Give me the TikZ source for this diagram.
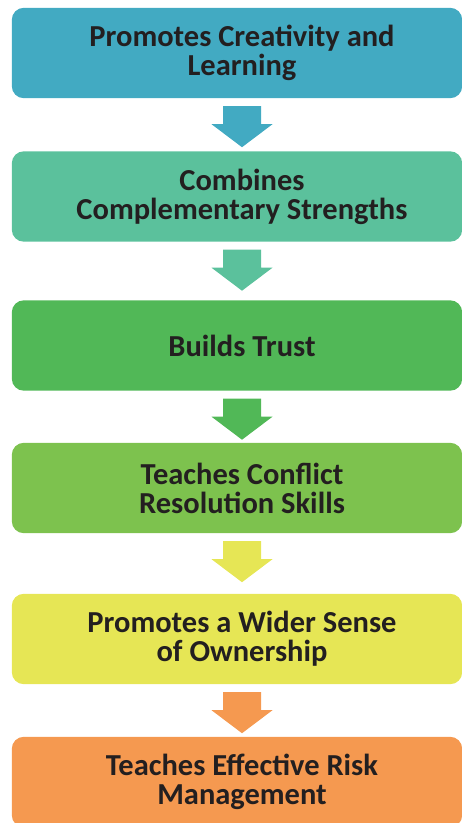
\documentclass[tikz,border=0pt]{standalone}
\usepackage{fontspec}
\setmainfont{Carlito}
\usetikzlibrary{calc, backgrounds}

\definecolor{stepblue}{RGB}{66,170,194}
\definecolor{stepteal}{RGB}{91,193,156}
\definecolor{stepgreen}{RGB}{81,184,87}
\definecolor{steplime}{RGB}{125,194,78}
\definecolor{stepyellow}{RGB}{230,230,85}
\definecolor{steporange}{RGB}{245,153,80}
\definecolor{textdark}{RGB}{35,31,32}

\begin{document}
\begin{tikzpicture}[x=1pt, y=-1pt,
    stage/.style={minimum width=440pt, minimum height=90pt, inner sep=0pt, align=center,
        text=textdark, font=\fontsize{30.5}{29}\selectfont\bfseries}]
    \useasboundingbox (0,0) rectangle (462,823);

    % Stages (text centred a little right of the box middle)
    \node[stage] (creativity) at (242,53)    {Promotes Creativity and\\Learning};
    \node[stage] (strengths)  at (242,196.5) {Combines\\Complementary Strengths};
    \node[stage] (trust)      at (242,345.5) {Builds Trust};
    \node[stage] (conflict)   at (242,488)   {Teaches Conflict\\Resolution Skills};
    \node[stage] (ownership)  at (242,639)   {Promotes a Wider Sense\\of Ownership};
    \node[stage] (risk)       at (242,782)   {Teaches Effective Risk\\Management};

    % Rounded boxes behind the text
    \begin{scope}[on background layer]
        \foreach \n/\c in {creativity/stepblue, strengths/stepteal, trust/stepgreen,
                           conflict/steplime, ownership/stepyellow, risk/steporange} {
            \fill[\c, rounded corners=12pt] ($(\n.north west)+(-10,0)$) rectangle (\n.south east);
        }
    \end{scope}

    % Block arrows between stages
    \foreach \a/\b in {creativity/stepblue, strengths/stepteal, trust/stepgreen,
                       conflict/stepyellow, ownership/steporange} {
        \fill[\b] ($(\a.south)+(-19,8)$) -- ($(\a.south)+(19,8)$) -- ($(\a.south)+(19,26)$)
            -- ($(\a.south)+(30.5,26)$) -- ($(\a.south)+(0,49)$)
            -- ($(\a.south)+(-30.5,26)$) -- ($(\a.south)+(-19,26)$) -- cycle;
    }

\end{tikzpicture}
\end{document}
